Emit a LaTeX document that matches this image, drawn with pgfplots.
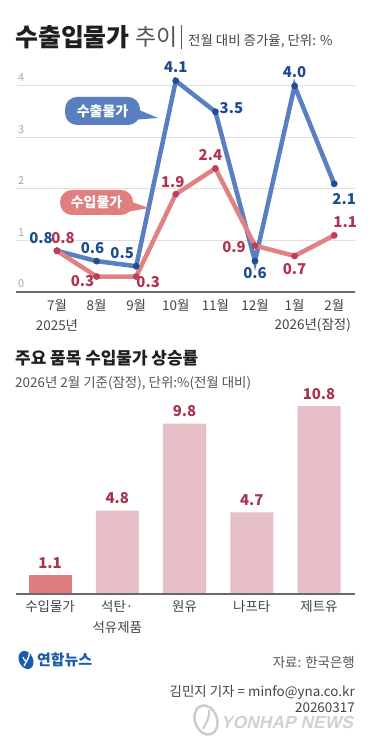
\documentclass[border=0pt]{standalone}
\usepackage{fontspec}
\setmainfont{Noto Sans CJK KR}
\newfontfamily\wmfont{Liberation Sans}[FakeSlant=0.22]
\usepackage{pgfplots}
\pgfplotsset{compat=1.18}
\definecolor{blueline}{HTML}{5A7FC1}
\definecolor{bluedot}{HTML}{1F4E96}
\definecolor{bluetext}{HTML}{1E4A8E}
\definecolor{redline}{HTML}{E08283}
\definecolor{reddot}{HTML}{C23A5C}
\definecolor{redtext}{HTML}{B2334F}
\definecolor{barlight}{HTML}{E6C0C6}
\definecolor{bardark}{HTML}{DE7E7E}
\definecolor{barval}{HTML}{A8334F}
\definecolor{gridgray}{HTML}{E0E0E0}
\definecolor{axisgray}{HTML}{6A6A6A}
\definecolor{tickgray}{HTML}{A8A8A8}
\definecolor{labgray}{HTML}{444444}
\definecolor{subgray}{HTML}{555555}
\definecolor{logoblue}{HTML}{1B5CA8}
\definecolor{calloutblue}{HTML}{5A7FC1}
\definecolor{calloutred}{HTML}{DF7F80}
\newcommand\fs[1]{\fontsize{#1}{#1}\selectfont}
\begin{document}
\begin{tikzpicture}[x=1bp,y=1bp]
\useasboundingbox (0,0) rectangle (372,750);
\fill[white] (0,0) rectangle (372,750);

% ---------- top title ----------
\node[anchor=west, inner sep=0pt, font=\bfseries\fs{25}, text=black!88] at (15,713) {수출입물가};
\node[anchor=west, inner sep=0pt, font=\fs{23}, text=subgray] at (135,713) {추이};
\draw[subgray, line width=0.8bp] (181,725) -- (181,701);
\node[anchor=west, inner sep=0pt, font=\fs{13.5}, text=labgray] at (188,709) {전월 대비 증가율, 단위: \%};

% ---------- line chart ----------
\begin{axis}[at={(16bp,458bp)}, anchor=south west, scale only axis,
  width=339bp, height=231.75bp,
  xmin=-1.035, xmax=7.525, ymin=0, ymax=4.5, clip=false,
  axis line style={draw=none},
  ytick={1,2,3,4}, yticklabels={}, ymajorgrids,
  grid style={draw=gridgray, line width=1bp},
  xtick={0,...,7}, xticklabels={7월,8월,9월,10월,11월,12월,1월,2월},
  major tick length=0pt,
  xticklabel style={font=\fs{13.5}, text=labgray, anchor=north, inner sep=0pt, yshift=-7bp},
  /pgf/number format/assume math mode=true]
\draw[axisgray, line width=1.2bp] (axis cs:-1.035,0) -- (axis cs:7.525,0);
\begin{scope}[every node/.style={anchor=south west, inner sep=0pt, font=\fs{11}, text=tickgray, xshift=2bp, yshift=4bp}]
\node at (axis cs:-1.035,0) {0};
\node at (axis cs:-1.035,1) {1};
\node at (axis cs:-1.035,2) {2};
\node at (axis cs:-1.035,3) {3};
\node at (axis cs:-1.035,4) {4};
\end{scope}
\addplot[blueline, line width=4.5bp, mark=*, mark size=3.2bp,
  mark options={solid, fill=bluedot, draw=bluedot, line width=0.3bp}]
  coordinates {(0,0.8)(1,0.6)(2,0.5)(3,4.1)(4,3.5)(5,0.6)(6,4.0)(7,2.1)};
\addplot[redline, line width=4.5bp, mark=*, mark size=3.2bp,
  mark options={solid, fill=reddot, draw=reddot, line width=0.3bp}]
  coordinates {(0,0.8)(1,0.3)(2,0.3)(3,1.9)(4,2.4)(5,0.9)(6,0.7)(7,1.1)};
% blue labels
\begin{scope}[every node/.style={font=\bfseries\fs{15}, text=bluetext, inner sep=0pt}]
\node[xshift=-16bp, yshift=12.5bp] at (axis cs:0,0.8) {0.8};
\node[xshift=-4bp, yshift=13bp] at (axis cs:1,0.6) {0.6};
\node[xshift=-14bp, yshift=13.5bp] at (axis cs:2,0.5) {0.5};
\node[xshift=0bp, yshift=14bp] at (axis cs:3,4.1) {4.1};
\node[xshift=16bp, yshift=4bp] at (axis cs:4,3.5) {3.5};
\node[xshift=0bp, yshift=-12bp] at (axis cs:5,0.6) {0.6};
\node[xshift=0bp, yshift=14bp] at (axis cs:6,4.0) {4.0};
\node[xshift=10bp, yshift=-15bp] at (axis cs:7,2.1) {2.1};
\end{scope}
% red labels
\begin{scope}[every node/.style={font=\bfseries\fs{15}, text=redtext, inner sep=0pt}]
\node[xshift=6bp, yshift=13bp] at (axis cs:0,0.8) {0.8};
\node[xshift=-14bp, yshift=-5bp] at (axis cs:1,0.3) {0.3};
\node[xshift=12bp, yshift=-5.5bp] at (axis cs:2,0.3) {0.3};
\node[xshift=-3bp, yshift=12bp] at (axis cs:3,1.9) {1.9};
\node[xshift=-5bp, yshift=13bp] at (axis cs:4,2.4) {2.4};
\node[xshift=-21bp, yshift=-1bp] at (axis cs:5,0.9) {0.9};
\node[xshift=0bp, yshift=-13bp] at (axis cs:6,0.7) {0.7};
\node[xshift=11bp, yshift=13bp] at (axis cs:7,1.1) {1.1};
\end{scope}
\end{axis}

% year labels
\node[font=\fs{13.5}, text=labgray, inner sep=0pt] at (57,425) {2025년};
\node[anchor=east, font=\fs{13.5}, text=labgray, inner sep=0pt] at (351,425) {2026년(잠정)};

% callouts
\fill[calloutblue, rounded corners=12bp] (65,653) rectangle (140,625);
\fill[calloutblue] (132,643) -- (158,632) -- (132,630) -- cycle;
\node[font=\bfseries\fs{14}, text=white, inner sep=0pt] at (102.5,639) {수출물가};
\fill[calloutred, rounded corners=12bp] (60,560) rectangle (133,535);
\fill[calloutred] (126,550) -- (149,542) -- (126,538) -- cycle;
\node[font=\bfseries\fs{14}, text=white, inner sep=0pt] at (96.5,547.5) {수입물가};

% ---------- bar chart titles ----------
\node[anchor=west, inner sep=0pt, font=\bfseries\fs{17}, text=black!88] at (15,392) {주요 품목 수입물가 상승률};
\node[anchor=west, inner sep=0pt, font=\fs{13.5}, text=subgray] at (15,367) {2026년 2월 기준(잠정), 단위:\%(전월 대비)};

\begin{axis}[at={(16bp,156bp)}, anchor=south west, scale only axis,
  width=339bp, height=200bp,
  xmin=-0.506, xmax=4.535, ymin=0, ymax=11.5, clip=false,
  axis line style={draw=none}, ytick=\empty,
  xtick={0,...,4}, xticklabels={수입물가,{석탄·\\석유제품},원유,나프타,제트유},
  major tick length=0pt,
  xticklabel style={font=\fontsize{13.5}{21}\selectfont, text=labgray, anchor=north, inner sep=0pt, yshift=-6.5bp, align=center},
  /pgf/number format/assume math mode=true,
  nodes near coords,
  nodes near coords style={font=\bfseries\fs{15}, text=barval, anchor=center, yshift=12bp, inner sep=0pt}]
\addplot[ybar, bar width=43bp, bar shift=0pt, fill=bardark, draw=none] coordinates {(0,1.1)};
\addplot[ybar, bar width=43bp, bar shift=0pt, fill=barlight, draw=none] coordinates {(1,4.8)(2,9.8)(3,4.7)(4,10.8)};
\draw[axisgray, line width=1.2bp] (axis cs:-0.506,0) -- (axis cs:4.535,0);
\end{axis}

% ---------- footer ----------
\fill[logoblue, rotate around={25:(26,90)}] (26,90) ellipse (7 and 9.5);
\draw[white, line width=1.4bp] (24,84) .. controls (27,90) and (30,94) .. (29,97);
\draw[white, line width=1.2bp] (23,93) .. controls (24,90) and (26,88) .. (27,89);
\node[anchor=west, inner sep=0pt, font=\bfseries\fs{15}, text=logoblue] at (37,90) {연합뉴스};
\node[anchor=east, inner sep=0pt, font=\fs{13.5}, text=subgray] at (355,88) {자료: 한국은행};
\node[anchor=east, inner sep=0pt, font=\fs{13.5}, text=labgray] at (355,57) {김민지 기자 = minfo@yna.co.kr};
\node[anchor=east, inner sep=0pt, font=\fs{13.5}, text=labgray] at (355,42) {20260317};
% watermark
\draw[black!20, line width=2.5bp, rotate around={20:(206,30)}] (206,30) ellipse (11 and 15);
\draw[black!20, line width=2bp] (203,21) .. controls (207,29) and (210,34) .. (209,40);
\node[anchor=west, inner sep=0pt, font=\wmfont\bfseries\fs{17.5}, text=black!18] at (221,28) {YONHAP NEWS};
\end{tikzpicture}
\end{document}
